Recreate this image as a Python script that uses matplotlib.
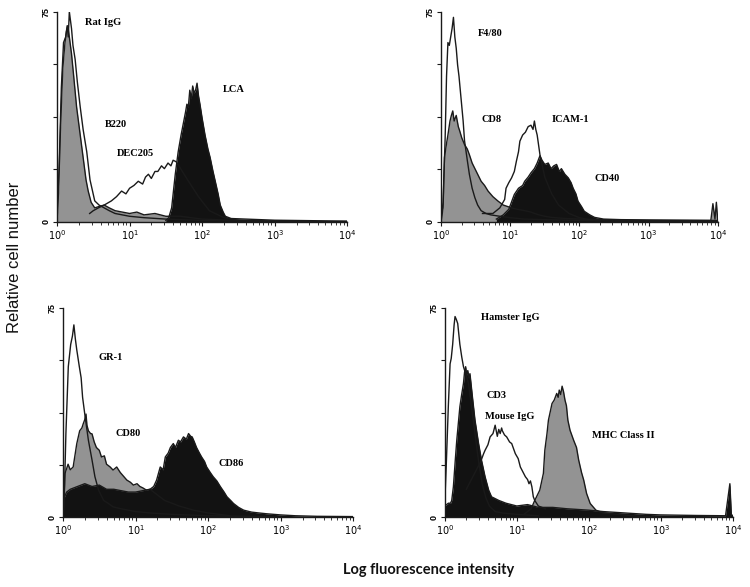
"""
Flow cytometry histograms, four panels (log fluorescence vs relative cell number).
Values read off the reference figure; x positions stored as log10 intensity.
"""
import numpy as np
import matplotlib
matplotlib.use("Agg")
import matplotlib.pyplot as plt
from matplotlib.ticker import FixedLocator, LogLocator, NullFormatter

# ---------------- panel A (top left) ----------------
RAT_IGG_LOG = [0.0, 0.03, 0.06, 0.09, 0.12, 0.14, 0.155, 0.17, 0.185, 0.2, 0.22, 0.25,
               0.28, 0.32, 0.36, 0.41, 0.455, 0.52, 0.58, 0.65, 0.72, 0.8, 0.9, 1.0,
               1.2, 1.5, 2.0, 2.5, 3.0, 4.0]
RAT_IGG = [2, 20, 48, 64, 66, 70, 66, 75, 72, 69, 63, 58,
           50, 41, 33, 25, 15, 7.5, 6, 5, 4, 3, 2.5, 2,
           1.5, 1, 0.5, 0.3, 0.2, 0]

B220_LOG = [0.0, 0.02, 0.05, 0.08, 0.11, 0.13, 0.15, 0.17, 0.2, 0.23, 0.27, 0.31,
            0.36, 0.4, 0.43, 0.47, 0.52, 0.58, 0.65, 0.72, 0.8, 0.9, 1.0, 1.1,
            1.2, 1.35, 1.5, 1.7, 2.0, 2.5, 3.0, 4.0]
B220 = [0, 10, 35, 55, 64, 68, 70, 66, 60, 52, 41, 33,
        23, 15, 11, 7, 5, 5.5, 6, 5, 4, 3.5, 3, 3.5,
        2.5, 3, 2, 2, 1, 0.5, 0.3, 0]

DEC205_LOG = [0.45, 0.5, 0.57, 0.65, 0.75, 0.82, 0.89, 0.95, 1.0, 1.06, 1.12, 1.18,
              1.22, 1.26, 1.3, 1.35, 1.39, 1.44, 1.48, 1.53, 1.57, 1.6, 1.64, 1.68,
              1.8, 1.95, 2.1, 2.3, 2.5]
DEC205 = [3, 4, 5, 6, 7.5, 9, 11, 10, 12, 13, 14.5, 13.5,
          16, 17, 15.5, 18, 18, 20, 19, 21, 20, 22, 21.5, 20,
          15, 9, 4, 1.5, 0.5]

LCA_LOG = [1.5, 1.54, 1.58, 1.63, 1.67, 1.71, 1.74, 1.77, 1.79, 1.81, 1.83, 1.85,
           1.87, 1.89, 1.91, 1.93, 1.95, 1.97, 2.0, 2.04, 2.08, 2.11, 2.15, 2.18,
           2.22, 2.25, 2.29, 2.32, 2.4, 2.6, 2.8, 3.0, 3.3, 3.6, 4.0]
LCA = [0.5, 1.5, 5, 17, 25, 31, 35, 39, 42, 41, 47, 44,
       48.5, 46, 47, 49.5, 45, 42, 37, 31, 26, 23, 18, 14.6,
       10, 6, 3.5, 2, 1.2, 1, 0.8, 0.6, 0.5, 0.4, 0.3]

# ---------------- panel B (top right) ----------------
F480_LOG = [0.0, 0.03, 0.06, 0.08, 0.10, 0.12, 0.14, 0.16, 0.18, 0.2, 0.22, 0.24,
            0.26, 0.29, 0.32, 0.34, 0.38, 0.41, 0.45, 0.49, 0.53, 0.58, 0.65, 0.72,
            0.85, 1.0, 1.2, 1.5, 2.0, 2.5, 3.0, 4.0]
F480 = [0, 7, 30, 52, 64, 63, 66, 69, 73, 66, 62, 56,
        52, 44, 36, 29, 22, 17, 12, 8.6, 6, 4, 3, 2.5,
        2, 1.5, 1, 0.8, 0.5, 0.3, 0.2, 0]

CD8_LOG = [0.0, 0.03, 0.05, 0.08, 0.10, 0.13, 0.15, 0.17, 0.19, 0.22, 0.25, 0.27,
           0.3, 0.34, 0.38, 0.41, 0.45, 0.49, 0.53, 0.58, 0.63, 0.68, 0.75, 0.82,
           0.9, 1.02, 1.1, 1.21, 1.3, 1.4, 1.5, 1.6, 1.8, 2.0, 2.3, 2.6,
           3.0, 3.4, 3.8, 3.9, 3.93, 3.96, 3.98, 4.0]
CD8 = [0, 5, 23, 28, 31, 36, 38, 39.6, 36, 38, 34, 32.5,
       30, 27.6, 26, 24, 21, 19, 17, 14.5, 13, 11, 9, 7.5,
       6, 5, 4.5, 4, 3.5, 2.6, 2, 1.6, 1.2, 1, 0.8, 0.6,
       0.5, 0.5, 0.5, 0.5, 6.5, 1, 7, 0.5]

ICAM1_LOG = [0.6, 0.75, 0.85, 0.92, 0.94, 0.98, 1.02, 1.06, 1.09, 1.12, 1.14, 1.18,
             1.22, 1.26, 1.30, 1.33, 1.35, 1.37, 1.39, 1.43, 1.5, 1.6, 1.7, 1.85,
             2.0, 2.2]
ICAM1 = [3, 3, 5, 8, 12, 14, 15.7, 18, 21.7, 25, 28.8, 31,
         32, 34, 34.5, 33, 36, 33, 31, 24, 16, 10, 6, 3,
         1.5, 0.5]

CD40_LOG = [0.8, 0.9, 0.98, 1.06, 1.12, 1.18, 1.21, 1.26, 1.3, 1.35, 1.39, 1.43,
            1.46, 1.5, 1.55, 1.59, 1.63, 1.67, 1.71, 1.74, 1.79, 1.84, 1.88, 1.91,
            1.95, 1.98, 2.03, 2.07, 2.15, 2.22, 2.35, 2.6, 3.0, 3.5, 4.0]
CD40 = [1, 2.5, 4.5, 9.8, 12, 13, 14.5, 16, 17.5, 19, 21, 23.6,
        22, 20.5, 21, 19, 20, 20.5, 18, 19, 17, 15.7, 14, 12,
        10, 7.4, 5.5, 3.8, 2.5, 1.6, 1, 0.8, 0.7, 0.6, 0.5]

# ---------------- panel C (bottom left) ----------------
GR1_LOG = [0.0, 0.014, 0.04, 0.073, 0.106, 0.13, 0.15, 0.17, 0.19, 0.225, 0.25, 0.27,
           0.30, 0.35, 0.40, 0.44, 0.49, 0.56, 0.62, 0.69, 0.8, 1.0, 1.2, 1.5,
           2.0, 2.5, 3.0]
GR1 = [0, 3.7, 30, 54, 62, 65, 69, 64, 60, 54, 50, 43,
       37, 27.6, 20.5, 14.5, 9.7, 6, 5, 3.7, 3, 2, 1.5, 1,
       0.5, 0.3, 0]

CD80_LOG = [0.0, 0.028, 0.07, 0.1, 0.14, 0.19, 0.23, 0.26, 0.28, 0.3, 0.317, 0.33,
            0.35, 0.38, 0.40, 0.43, 0.46, 0.5, 0.53, 0.57, 0.6, 0.65, 0.69, 0.74,
            0.79, 0.84, 0.88, 0.93, 0.97, 1.02, 1.06, 1.1, 1.15, 1.2, 1.25, 1.3,
            1.4, 1.6, 1.8, 2.0, 2.3]
CD80 = [0, 15.7, 19, 17, 18, 26.4, 31, 32, 33.6, 35, 37, 33,
        31, 30, 29.9, 27, 25, 24, 21.6, 22, 19, 18, 16.9, 18,
        16, 14.5, 13.3, 12.5, 11.5, 12, 11, 10.5, 9.7, 10, 9, 8,
        6, 4, 2.5, 1.5, 0.5]

CD86_LOG = [0.0, 0.05, 0.1, 0.2, 0.3, 0.4, 0.5, 0.6, 0.7, 0.8, 0.9, 1.0,
            1.1, 1.2, 1.25, 1.29, 1.34, 1.38, 1.41, 1.45, 1.48, 1.52, 1.55, 1.59,
            1.62, 1.66, 1.7, 1.73, 1.76, 1.78, 1.81, 1.84, 1.88, 1.91, 1.95, 1.98,
            2.03, 2.07, 2.12, 2.17, 2.22, 2.26, 2.31, 2.35, 2.42, 2.49, 2.6, 2.7,
            2.81, 3.0, 3.2, 3.5, 4.0]
CD86 = [6, 9, 10, 11, 12, 11, 11.5, 10, 10, 9.5, 9, 9,
        9.5, 10, 11, 13.3, 18, 17, 21.6, 23, 25, 26.4, 25, 27.6,
        27, 28.8, 28, 30, 29, 28.8, 27, 25, 23, 21.6, 20, 18,
        16, 14.5, 13, 10.9, 9, 7.3, 6, 4.9, 3.5, 2.5, 1.8, 1.5,
        1.2, 0.8, 0.5, 0.3, 0.2]

# ---------------- panel D (bottom right) ----------------
HAMSTER_LOG = [0.0, 0.02, 0.05, 0.074, 0.09, 0.11, 0.13, 0.143, 0.16, 0.18, 0.21, 0.236,
               0.26, 0.29, 0.33, 0.37, 0.42, 0.47, 0.52, 0.57, 0.62, 0.7, 0.8, 1.0,
               1.3]
HAMSTER = [5, 18, 40, 55, 57, 62, 69, 72, 71, 69.5, 62, 57.5,
           54, 51.5, 48, 40, 30, 20, 12, 7, 4, 2, 1.5, 1,
           0.5]

CD3_LOG = [0.0, 0.05, 0.08, 0.097, 0.12, 0.145, 0.167, 0.19, 0.21, 0.235, 0.26, 0.275,
           0.29, 0.305, 0.32, 0.335, 0.35, 0.385, 0.42, 0.47, 0.51, 0.56, 0.61, 0.65,
           0.75, 0.85, 1.0, 1.15, 1.3, 1.5, 1.7, 2.0, 2.2, 2.5, 2.8, 3.0,
           3.5, 3.9, 3.96, 3.98, 4.0]
CD3 = [4, 5, 5, 6, 10.9, 20, 27.6, 34, 39.6, 44, 48, 52,
       54, 51, 52.6, 50, 51.5, 43, 34.8, 26.4, 20.5, 14.5, 9.7, 7.3,
       6, 5, 4, 4.5, 3.5, 3.5, 3, 2.5, 2, 1.5, 1, 0.8,
       0.6, 0.5, 12, 1, 0.5]

MOUSE_IGG_LOG = [0.3, 0.4, 0.5, 0.54, 0.56, 0.6, 0.63, 0.67, 0.7, 0.73, 0.75, 0.77,
                 0.79, 0.8, 0.83, 0.86, 0.9, 0.93, 0.98, 1.02, 1.05, 1.09, 1.12, 1.15,
                 1.17, 1.19, 1.21, 1.23, 1.25, 1.3, 1.4]
MOUSE_IGG = [10, 15, 20, 22.8, 24, 26, 28.8, 30, 33, 29, 31.5, 30,
             32, 31, 29.5, 28.8, 27, 26.4, 22.8, 21, 18, 16, 14.5, 13.5,
             12, 13, 10.9, 7.3, 6, 4, 3]

MHC2_LOG = [1.1, 1.2, 1.25, 1.32, 1.37, 1.39, 1.42, 1.44, 1.49, 1.52, 1.555, 1.575,
            1.59, 1.61, 1.63, 1.65, 1.67, 1.69, 1.71, 1.74, 1.79, 1.83, 1.86, 1.9,
            1.93, 1.97, 2.02, 2.1, 2.2, 2.4, 2.6, 3.0]
MHC2 = [1, 3, 6, 9.7, 15.7, 24, 30, 34.8, 40.8, 42, 44.4, 43,
        45.6, 44, 47, 45, 42, 40, 34.8, 31.2, 27.6, 25, 20.5, 16,
        13.3, 8.5, 4.9, 2.5, 1.5, 1, 0.5, 0]

GREY = "#939393"
BLACK = "#121212"
LINE = "#1a1a1a"
LABEL_FONT = dict(family="Liberation Serif", fontweight="bold", fontsize=7.5)


def lin(logs):
    return 10 ** np.asarray(logs, dtype=float)


def filled(ax, logs, counts, color):
    x = lin(logs)
    ax.fill_between(x, counts, 0, color=color, lw=0, zorder=2)
    ax.plot(x, counts, color=LINE, lw=1.0, zorder=3)


def outline(ax, logs, counts):
    ax.plot(lin(logs), counts, color=LINE, lw=1.0, zorder=4)


def style_axes(ax):
    ax.set_xscale("log")
    ax.set_xlim(1, 1e4)
    ax.set_ylim(0, 75)
    for side in ("top", "right"):
        ax.spines[side].set_visible(False)
    for side in ("left", "bottom"):
        ax.spines[side].set_linewidth(1.0)
        ax.spines[side].set_color(LINE)
    ax.yaxis.set_major_locator(FixedLocator([0, 18.75, 37.5, 56.25, 75]))
    ax.set_yticklabels(["0", "", "", "", "75"], rotation=90, va="center",
                       fontsize=6.5, fontweight="bold", family="Liberation Sans")
    ax.xaxis.set_major_locator(FixedLocator([1, 10, 100, 1000, 10000]))
    ax.set_xticklabels([r"$10^{0}$", r"$10^{1}$", r"$10^{2}$", r"$10^{3}$", r"$10^{4}$"],
                       fontsize=7)
    ax.xaxis.set_minor_locator(LogLocator(base=10, subs=np.arange(2, 10)))
    ax.xaxis.set_minor_formatter(NullFormatter())
    ax.tick_params(axis="both", which="major", length=3, width=0.8, pad=1.5,
                   color=LINE)
    ax.tick_params(axis="x", which="minor", length=2.5, width=0.6, color=LINE)
    ax.patch.set_alpha(0)


def label(ax, text, logx, y):
    ax.text(10 ** logx, y, text, ha="left", va="center", zorder=6, **LABEL_FONT)


fig = plt.figure(figsize=(7.5, 5.87), dpi=100)
ax_a = fig.add_axes([0.076, 0.622, 0.387, 0.358])
ax_b = fig.add_axes([0.588, 0.622, 0.369, 0.358])
ax_c = fig.add_axes([0.084, 0.119, 0.387, 0.356])
ax_d = fig.add_axes([0.593, 0.119, 0.384, 0.356])

# A
filled(ax_a, B220_LOG, B220, GREY)
filled(ax_a, LCA_LOG, LCA, BLACK)
outline(ax_a, RAT_IGG_LOG, RAT_IGG)
outline(ax_a, DEC205_LOG, DEC205)
label(ax_a, "Rat IgG", 0.39, 71)
label(ax_a, "B220", 0.66, 34.6)
label(ax_a, "DEC205", 0.82, 24.3)
label(ax_a, "LCA", 2.29, 47.4)

# B
filled(ax_b, CD8_LOG, CD8, GREY)
filled(ax_b, CD40_LOG, CD40, BLACK)
outline(ax_b, F480_LOG, F480)
outline(ax_b, ICAM1_LOG, ICAM1)
label(ax_b, "F4/80", 0.54, 67.4)
label(ax_b, "CD8", 0.59, 36.7)
label(ax_b, "ICAM-1", 1.60, 36.7)
label(ax_b, "CD40", 2.22, 15.6)

# C
filled(ax_c, CD80_LOG, CD80, GREY)
filled(ax_c, CD86_LOG, CD86, BLACK)
outline(ax_c, GR1_LOG, GR1)
label(ax_c, "GR-1", 0.49, 57.3)
label(ax_c, "CD80", 0.72, 30.2)
label(ax_c, "CD86", 2.14, 19.3)

# D
filled(ax_d, MHC2_LOG, MHC2, GREY)
filled(ax_d, CD3_LOG, CD3, BLACK)
outline(ax_d, HAMSTER_LOG, HAMSTER)
outline(ax_d, MOUSE_IGG_LOG, MOUSE_IGG)
label(ax_d, "Hamster IgG", 0.5, 71.5)
label(ax_d, "CD3", 0.58, 43.5)
label(ax_d, "Mouse IgG", 0.556, 36.3)
label(ax_d, "MHC Class II", 2.04, 29.2)

for ax in (ax_a, ax_b, ax_c, ax_d):
    style_axes(ax)

fig.text(0.02, 0.562, "Relative cell number", rotation=90, ha="center", va="center",
         fontsize=12, family="Liberation Sans", color="#111111")
fig.text(0.572, 0.029, "Log fluorescence intensity", ha="center", va="center",
         fontsize=10.5, fontweight="bold", family="Lato", color="#111111")

fig.savefig("out.png", dpi=100, facecolor="white")
